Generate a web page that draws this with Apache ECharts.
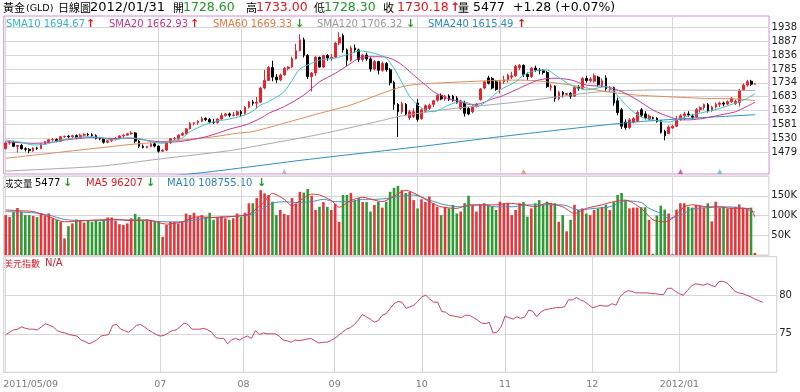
<!DOCTYPE html>
<html><head><meta charset="utf-8">
<script src="https://cdn.jsdelivr.net/npm/echarts@6.0.0/dist/echarts.min.js"></script>
<style>html,body{margin:0;padding:0;background:#fff}#c{width:800px;height:392px}</style>
</head><body><div id="c"></div>
<script>
// ---- Gold (spot) daily OHLC, every weekday 2011/05/09 .. 2012/01/31 ----
const opens = [1492,1513,1516,1500,1504,1492,1490,1485,1495,1493,1510,1518,1525,1526,1520,1536,1538,
 1536,1540,1533,1542,1545,1543,1540,1530,1528,1516,1521,1528,1530,1539,1542,1547,1550,1520,1501,1497,1500,1510,
 1502,1483,1487,1514,1529,1530,1542,1548,1565,1585,1587,1593,1603,1599,1590,1588,1601,1614,1620,1615,1616,
 1628,1621,1645,1664,1659,1663,1715,1743,1790,1755,1745,1763,1787,1792,1823,1852,1892,1835,1757,1770,1828,1792,1834,
 1825,1828,1880,1908,1855,1817,1862,1855,1820,1836,1822,1785,1812,1780,1805,1782,1735,1655,1628,1655,1605,1610,
 1660,1603,1630,1640,1655,1670,1688,1675,1685,1685,1678,1640,1660,1640,1628,1648,1672,1715,1752,1750,1738,
 1712,1738,1745,1755,1760,1790,1798,1765,1757,1788,1780,1779,1772,1718,1722,1676,1699,1692,1695,1685,1717,1714,
 1750,1742,1740,1755,1725,1752,1710,1716,1668,1635,1590,1570,1590,1595,1635,1620,1600,1606,1604,1595,1556,1548,
 1568,1575,1600,1613,1620,1612,1608,1636,1643,1654,1632,1645,1655,1660,1656,1665,1658,1662,1707,1726,1740,1728.6];
const highs = [1518,1522,1521,1506,1510,1497,1494,1498,1499,1512,1520,1527,1531,1530,1538,1540,1542,
 1543,1545,1547,1549,1550,1549,1545,1535,1532,1525,1531,1535,1542,1545,1550,1557,1553,1525,1508,1503,1515,1515,
 1504,1490,1518,1531,1535,1545,1553,1568,1590,1590,1597,1610,1608,1605,1602,1604,1624,1623,1625,1627,1632,
 1634,1648,1668,1671,1682,1720,1782,1796,1815,1766,1768,1793,1795,1830,1878,1912,1900,1840,1774,1832,1830,1837,1840,
 1840,1884,1920,1915,1860,1870,1875,1860,1840,1845,1828,1818,1815,1812,1810,1788,1742,1660,1665,1660,1635,1640,
 1675,1640,1655,1658,1672,1692,1695,1690,1692,1690,1685,1672,1668,1645,1652,1660,1715,1742,1760,1755,1745,
 1745,1760,1768,1775,1800,1803,1802,1772,1792,1797,1788,1785,1778,1730,1725,1705,1704,1698,1700,1722,1725,1755,
 1760,1755,1768,1760,1750,1762,1722,1720,1680,1642,1600,1605,1608,1632,1642,1630,1618,1610,1608,1598,1562,1578,
 1580,1612,1620,1628,1630,1620,1642,1648,1658,1660,1650,1662,1665,1665,1670,1682,1672,1712,1732,1745,1745,1733];
const lows = [1490,1507,1498,1478,1489,1482,1476,1481,1488,1490,1507,1515,1519,1516,1518,1532,1530,
 1532,1527,1530,1537,1538,1536,1526,1523,1511,1512,1517,1522,1527,1533,1540,1543,1512,1495,1493,1493,1498,1497,
 1478,1480,1484,1510,1522,1525,1540,1545,1563,1578,1580,1590,1593,1585,1583,1584,1599,1610,1608,1610,1612,
 1610,1618,1640,1650,1640,1660,1710,1740,1740,1734,1740,1760,1780,1788,1820,1850,1827,1748,1702,1760,1790,1788,1815,
 1815,1825,1872,1845,1795,1812,1845,1810,1812,1815,1775,1780,1765,1775,1775,1725,1635,1535,1620,1612,1598,1605,
 1592,1598,1625,1635,1645,1665,1670,1668,1668,1665,1658,1635,1610,1615,1622,1643,1668,1710,1728,1710,1705,
 1695,1730,1735,1748,1755,1780,1755,1745,1752,1775,1765,1765,1715,1705,1665,1670,1680,1688,1675,1682,1705,1710,
 1735,1735,1735,1720,1718,1705,1700,1650,1615,1565,1562,1565,1585,1590,1608,1600,1597,1600,1588,1548,1523,1545,
 1565,1572,1595,1598,1610,1602,1605,1625,1635,1625,1628,1640,1645,1648,1652,1660,1652,1648,1705,1720,1722,1728.3];
const closes = [1513,1516,1501,1504,1492,1490,1485,1495,1493,1510,1518,1525,1526,1520,1536,1538,1536,
 1540,1533,1542,1545,1543,1540,1530,1528,1516,1521,1528,1530,1539,1542,1547,1550,1520,1501,1497,1500,1510,1502,
 1483,1487,1514,1529,1530,1542,1548,1565,1585,1587,1593,1603,1599,1590,1588,1601,1614,1620,1615,1616,1628,
 1621,1645,1664,1659,1663,1715,1743,1790,1755,1745,1763,1787,1792,1823,1852,1892,1835,1757,1770,1828,1792,1834,1825,
 1828,1880,1900,1855,1817,1862,1855,1820,1836,1822,1785,1812,1780,1805,1782,1735,1655,1628,1658,1620,1628,1628,
 1600,1635,1650,1652,1668,1688,1675,1685,1672,1670,1660,1668,1622,1620,1648,1655,1711,1738,1733,1715,1710,
 1738,1745,1762,1760,1795,1798,1765,1757,1788,1780,1779,1772,1720,1722,1676,1699,1692,1695,1685,1717,1714,1750,
 1742,1748,1760,1728,1742,1712,1716,1660,1625,1575,1570,1598,1603,1625,1615,1605,1612,1604,1592,1552,1540,1572,
 1575,1600,1613,1620,1616,1608,1636,1643,1654,1632,1645,1655,1660,1656,1665,1678,1666,1707,1726,1738,1728.9,1730.18];
// volume, thousands
const volK = [101,96,109,119,110,101,101,99,96,105,99,105,93,89,84,42,73,
 80,90,89,82,87,84,89,84,89,95,95,87,78,76,80,93,104,96,89,90,89,84,
 84,46,76,84,84,80,84,105,101,107,96,101,96,107,89,96,98,93,89,93,105,
 96,107,131,131,144,164,156,152,135,101,114,104,101,144,130,160,158,167,150,114,122,134,122,
 114,130,84,152,152,157,139,144,134,134,110,127,135,120,135,160,170,175,164,157,160,139,
 118,141,134,148,131,122,101,122,118,127,105,110,131,150,127,110,127,131,127,124,114,
 135,131,131,101,114,131,134,97,118,131,139,127,135,131,131,84,101,60,89,127,114,118,
 105,101,114,118,122,127,114,134,152,157,139,118,120,120,121,121,89,3,100,125,115,105,
 2,115,131,131,122,120,127,125,120,131,85,135,120,122,118,120,122,128,120,118,120,5.477];
// US dollar index
const dollarIdx = [74.87,75.2,75.5,75.6,75.9,75.7,75.6,75.6,75.5,75.9,76.3,76.1,75.9,75.4,75.2,75.1,74.9,74.8,74.7,74.2,
 74.0,73.7,73.9,74.2,74.7,74.8,74.9,76.1,76.2,75.6,75.4,75.2,75.6,76.1,76.2,75.9,75.5,75.2,74.9,74.7,
 74.8,75.1,75.4,75.5,75.9,76.4,76.2,75.6,75.6,75.6,75.7,75.5,75.2,74.5,74.4,74.4,73.7,74.2,74.4,74.2,
 74.5,74.7,74.4,75.4,74.9,75.1,75.0,75.0,75.0,74.7,74.2,74.1,73.9,74.2,74.1,74.2,74.3,74.4,74.1,73.8,
 73.9,73.9,74.1,74.4,74.8,75.2,75.6,75.8,76.2,76.8,77.5,77.2,76.9,76.5,76.7,77.4,77.6,78.3,78.9,79.2,
 79.1,78.3,78.5,78.7,79.2,79.8,80.0,79.5,79.1,79.1,77.9,77.8,77.4,77.3,77.2,77.1,77.4,77.4,77.1,76.8,
 76.4,76.3,76.5,75.1,75.2,75.9,77.3,77.1,76.9,77.2,77.0,77.2,78.1,77.9,77.2,77.8,78.1,78.2,78.3,78.4,
 78.4,78.5,79.4,79.4,79.7,79.4,79.2,78.8,78.4,78.5,78.7,78.6,78.6,78.9,78.7,79.8,80.3,80.6,80.5,80.3,
 80.3,80.3,80.3,80.2,80.2,80.1,80.1,80.9,80.9,80.5,80.2,80.0,80.6,81.2,81.5,81.4,81.3,81.5,81.3,81.1,
 81.8,81.8,81.6,81.1,80.5,80.3,80.2,80.0,79.8,79.5,79.3,79.1];
// moving-average lines: [dayIndex, value]
const sma10 = [[0,1524],[4,1516],[7,1506],[10,1508],[14,1524],[17,1530],[20,1536],[24,1534],[27,1524],[31,1532],[34,1530],[37,1518],[40,1512],[42,1518],[45,1532],[47,1555],[51,1582],[54,1594],[57,1601],[61,1616],[63,1631],[65,1653],[67,1665],[71,1702],[75,1785],[78,1806],[80,1818],[84,1825],[88,1842],[90,1851],[92,1849],[95,1838],[97,1825],[99,1787],[101,1735],[103,1683],[105,1653],[107,1634],[109,1628],[113,1653],[116,1665],[118,1660],[120,1647],[122,1660],[124,1683],[126,1708],[130,1738],[132,1763],[136,1781],[138,1781],[140,1763],[144,1726],[148,1708],[153,1720],[155,1702],[158,1653],[161,1616],[163,1604],[165,1598],[167,1592],[169,1590],[171,1598],[174,1613],[178,1626],[182,1640],[186,1660],[189,1677],[191,1695]];
const sma20 = [[0,1518],[7,1512],[12,1516],[15,1524],[22,1533],[27,1530],[31,1531],[34,1527],[37,1521],[41,1516],[44,1518],[47,1524],[51,1536],[54,1549],[57,1564],[61,1579],[65,1604],[67,1622],[71,1647],[76,1689],[80,1738],[84,1769],[88,1806],[90,1825],[92,1830],[95,1830],[97,1828],[99,1818],[101,1800],[103,1775],[105,1750],[107,1726],[109,1702],[111,1687],[113,1675],[116,1665],[118,1655],[120,1655],[122,1663],[124,1675],[126,1683],[130,1708],[133,1728],[136,1745],[140,1751],[144,1745],[148,1726],[153,1720],[157,1702],[161,1671],[165,1634],[169,1610],[172,1598],[174,1598],[178,1604],[182,1616],[186,1628],[191,1663]];
const sma60 = [[0,1457],[32,1508],[39,1516],[45,1524],[53,1536],[59,1549],[63,1555],[72,1590],[80,1622],[88,1653],[96,1696],[101,1720],[105,1729],[114,1736],[122,1741],[130,1744],[135,1742],[144,1726],[153,1702],[161,1689],[169,1683],[178,1677],[186,1675],[191,1669]];
const sma120 = [[0,1410],[24,1428],[39,1454],[57,1485],[65,1505],[80,1545],[96,1596],[100,1610],[113,1638],[130,1663],[152,1702],[169,1708],[191,1706]];
const sma240 = [[0,1335],[25,1370],[50,1404],[76,1451],[105,1499],[130,1543],[161,1591],[191,1617]];
const volMA5 = [[0,114],[4,112],[7,110],[11,97],[15,84],[20,87],[24,89],[28,90],[32,87],[36,89],[41,78],[45,84],[49,97],[53,95],[57,97],[62,103],[64,118],[66,135],[68,156],[71,141],[73,124],[75,138],[78,154],[80,152],[83,138],[85,121],[88,138],[91,146],[94,139],[96,135],[99,149],[102,164],[105,152],[108,135],[111,122],[115,118],[118,127],[121,127],[125,127],[128,131],[132,127],[135,122],[138,131],[142,122],[145,105],[148,118],[152,127],[155,135],[158,139],[162,118],[165,89],[168,84],[170,93],[173,122],[175,127],[179,122],[182,122],[185,118],[189,118],[190,116],[191,96.2]];
const volMA10 = [[0,110],[7,107],[11,101],[15,90],[20,87],[24,87],[28,89],[32,89],[36,87],[41,84],[45,84],[49,90],[53,95],[57,97],[62,101],[65,114],[68,131],[71,135],[74,133],[78,135],[81,141],[84,135],[88,135],[91,141],[94,141],[98,144],[100,148],[104,152],[108,139],[112,127],[116,122],[121,127],[125,122],[129,122],[133,127],[137,127],[142,127],[146,114],[150,118],[154,122],[158,137],[162,133],[164,118],[167,105],[169,93],[172,101],[175,116],[179,120],[184,122],[188,118],[191,108.8]];
// crossover signal markers at the foot of the price panel
const signalIdx = [71, 132, 172, 182];
const signalLine = ['SMA120', 'SMA60', 'SMA20', 'SMA10'];
// axis ticks / labels
const priceTicks = [1479,1530,1581,1632,1683,1734,1785,1836,1887,1938];
const monthIdx = [0,39,60,83,105,126,148,170];
const monthLabels = ['2011/05/09','07','08','09','10','11','12','2012/01'];

const UP = '#e8232b', DOWN = '#000000', VUP = '#e8343a', VDOWN = '#2f9a33', TXT_GREEN = '#22962b';
const LINE_COLORS = {SMA10: '#3cc3cb', SMA20: '#c2389a', SMA60: '#e08a55', SMA120: '#a9a9a9', SMA240: '#2b8fc0'};
const NUMF = '"DejaVu Sans", Verdana, sans-serif';
const CJKF = '"Noto Sans CJK TC", "Noto Sans CJK SC", sans-serif';
const X_MIN = -0.5, X_MAX = 194.55;
const PY_MIN = 1399.3, PY_MAX = 1979.5;

const chart = echarts.init(document.getElementById('c'), null, {renderer: 'canvas', width: 800, height: 392});

const candleData = closes.map((c, i) => [i, opens[i], c, lows[i], highs[i]]);
const volData = volK.map((v, i) => ({value: [i, v], itemStyle: {color: closes[i] >= opens[i] ? VUP : VDOWN}}));
const dollarData = dollarIdx.map((v, i) => [i, v]);
const signalData = signalIdx.map((d, k) => ({value: [d, PY_MIN + 9], itemStyle: {color: LINE_COLORS[signalLine[k]]}}));

const vline = {show: true, lineStyle: {color: '#d6d6d6', width: 1}};
function xAx(gi, labels) {
  return {
    type: 'value', gridIndex: gi, min: X_MIN, max: X_MAX,
    axisLine: {show: false},
    axisTick: {show: false, customValues: monthIdx},
    splitLine: vline,
    axisLabel: labels ? {
      show: true, customValues: monthIdx, margin: 7, color: '#7a7a7a', fontSize: 9.5, fontFamily: NUMF,
      formatter: function (v) {
        const k = monthIdx.indexOf(Math.round(v));
        if (k < 0) return '';
        if (k === 0) return '{f|' + monthLabels[0] + '}';
        return monthLabels[k];
      },
      rich: {f: {padding: [0, 0, 0, 50], color: '#7a7a7a', fontSize: 9.5, fontFamily: NUMF}}
    } : {show: false}
  };
}
const gridBase = {left: 3.72, width: 773, show: true, backgroundColor: '#fff', borderWidth: 1};

function txt(x, y, s, color, font) {
  return {type: 'text', x: x, y: y, silent: true, style: {text: s, fill: color, font: font, verticalAlign: 'middle'}};
}
const fT = '12.5px ' + NUMF, fc11 = '11px ' + CJKF, f10 = '10px ' + NUMF, fc9 = '9.5px ' + CJKF;
const arrowF = 'bold 11px ' + NUMF;

const graphics = [
  txt(3, 8, '黃金', '#000', fc11), txt(26, 8.5, '(GLD)', '#000', '9.5px ' + NUMF),
  txt(58, 8, '日線圖', '#000', fc11), txt(90, 8, '2012/01/31', '#000', '13px ' + NUMF),
  txt(173, 8, '開', '#000', fc11), txt(183, 8, '1728.60', TXT_GREEN, fT),
  txt(246, 8, '高', '#000', fc11), txt(256, 8, '1733.00', '#e0161e', fT),
  txt(314, 8, '低', '#000', fc11), txt(324, 8, '1728.30', TXT_GREEN, fT),
  txt(383, 8, '收', '#000', fc11), txt(397, 8, '1730.18', '#e0161e', fT),
  txt(450, 8, '↑', '#e0161e', 'bold 12px ' + NUMF),
  txt(458, 8, '量', '#000', fc11), txt(473, 8, '5477', '#000', fT),
  txt(513, 8, '+1.28 (+0.07%)', '#000', fT),

  txt(6, 24.5, 'SMA10 1694.67', '#30b5c0', f10), txt(86, 24.5, '↑', '#e0161e', arrowF),
  txt(109, 24.5, 'SMA20 1662.93', '#c0358e', f10), txt(190, 24.5, '↑', '#e0161e', arrowF),
  txt(213, 24.5, 'SMA60 1669.33', '#dc7b3e', f10), txt(295, 24.5, '↓', TXT_GREEN, arrowF),
  txt(317, 24.5, 'SMA120 1706.32', '#9a9a9a', f10), txt(406, 24.5, '↓', TXT_GREEN, arrowF),
  txt(428, 24.5, 'SMA240 1615.49', '#2b8abb', f10), txt(517, 24.5, '↑', '#e0161e', arrowF),

  txt(4, 183.5, '成交量', '#000', fc9), txt(35, 183.5, '5477', '#000', f10), txt(63, 183.5, '↓', TXT_GREEN, arrowF),
  txt(86, 183.5, 'MA5 96207', '#e0161e', f10), txt(146, 183.5, '↓', TXT_GREEN, arrowF),
  txt(167, 183.5, 'MA10 108755.10', '#2a7fbf', f10), txt(257, 183.5, '↓', TXT_GREEN, arrowF),

  txt(4, 263.5, '美元指數', '#d0202c', '9px ' + CJKF), txt(45, 263.5, 'N/A', '#d0202c', f10)
];

function maLine(name, data, color, xi, yi) {
  return {name: name, type: 'line', xAxisIndex: xi, yAxisIndex: yi, data: data, showSymbol: false, symbol: 'none',
    smooth: 0.25, lineStyle: {color: color, width: 1}, z: 4, silent: true};
}
const plain = v => String(v);

const option = {
  animation: false,
  backgroundColor: '#ffffff',
  grid: [
    Object.assign({}, gridBase, {top: 16, height: 158, borderColor: '#d68ad6'}),
    Object.assign({}, gridBase, {top: 176, height: 79, borderColor: '#cdcdcd'}),
    Object.assign({}, gridBase, {top: 256.7, height: 115.6, borderColor: '#cdcdcd'})
  ],
  xAxis: [xAx(0, false), xAx(1, false), xAx(2, true)],
  yAxis: [
    {type: 'value', gridIndex: 0, position: 'right', min: PY_MIN, max: PY_MAX,
     axisLine: {show: false}, axisTick: {show: false, customValues: priceTicks},
     axisLabel: {customValues: priceTicks, formatter: plain, margin: 2.5, color: '#222', fontSize: 10, fontFamily: NUMF},
     splitLine: {show: true, lineStyle: {color: '#d6d6d6'}}},
    {type: 'value', gridIndex: 1, position: 'right', min: 0, max: 200, interval: 50,
     axisLine: {show: false}, axisTick: {show: false},
     axisLabel: {showMinLabel: false, showMaxLabel: false, margin: 2.5, color: '#222', fontSize: 10, fontFamily: NUMF,
       formatter: v => v + 'K'},
     splitLine: {show: true, lineStyle: {color: '#d6d6d6'}}},
    {type: 'value', gridIndex: 2, position: 'right', min: 70, max: 85, interval: 5,
     axisLine: {show: false}, axisTick: {show: false},
     axisLabel: {showMinLabel: false, showMaxLabel: false, formatter: plain, margin: 2.5, color: '#222', fontSize: 10, fontFamily: NUMF},
     splitLine: {show: true, lineStyle: {color: '#d6d6d6'}}}
  ],
  graphic: graphics,
  series: [
    {type: 'candlestick', xAxisIndex: 0, yAxisIndex: 0, data: candleData, encode: {x: 0, y: [1, 2, 3, 4]},
     barWidth: 2.2, z: 3,
     itemStyle: {color: UP, color0: DOWN, borderColor: UP, borderColor0: DOWN, borderWidth: 1}},
    maLine('SMA240', sma240, LINE_COLORS.SMA240, 0, 0),
    maLine('SMA120', sma120, LINE_COLORS.SMA120, 0, 0),
    maLine('SMA60', sma60, LINE_COLORS.SMA60, 0, 0),
    maLine('SMA20', sma20, LINE_COLORS.SMA20, 0, 0),
    maLine('SMA10', sma10, LINE_COLORS.SMA10, 0, 0),
    {type: 'scatter', xAxisIndex: 0, yAxisIndex: 0, data: signalData, symbol: 'triangle', symbolSize: [5, 5], z: 5, silent: true},
    {type: 'bar', xAxisIndex: 1, yAxisIndex: 1, data: volData, barWidth: 2.6, z: 2, silent: true},
    maLine('MA10', volMA10, '#4d8cc4', 1, 1),
    maLine('MA5', volMA5, '#d83a3a', 1, 1),
    {type: 'line', xAxisIndex: 2, yAxisIndex: 2, data: dollarData, showSymbol: false, symbol: 'none',
     lineStyle: {color: '#c4455a', width: 1}, silent: true}
  ]
};
chart.setOption(option);
</script>
</body></html>
